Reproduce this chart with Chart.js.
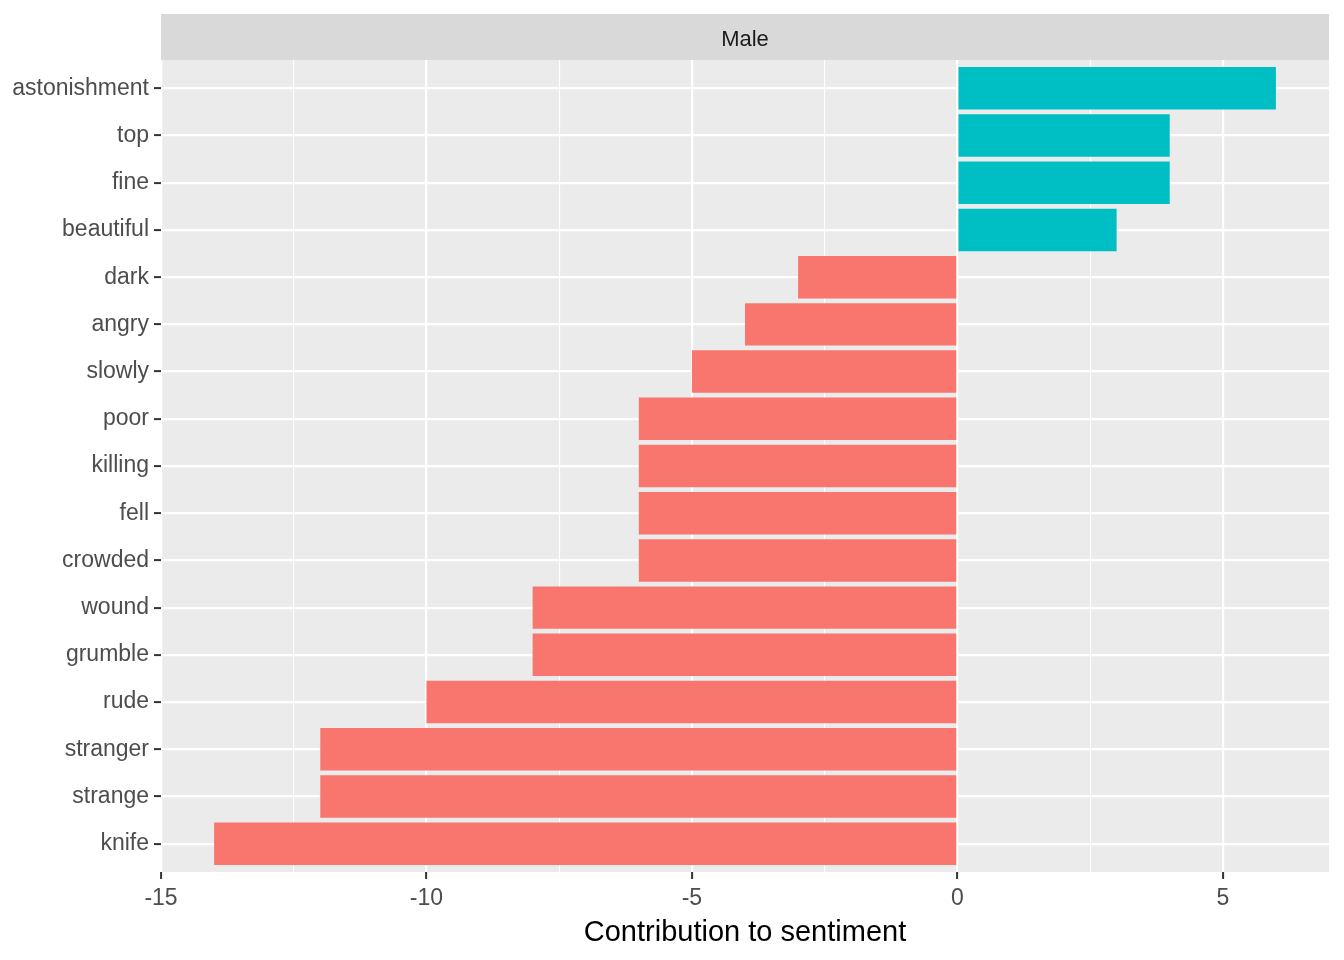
<!DOCTYPE html>
<html>
<head>
<meta charset="utf-8">
<script src="https://cdn.jsdelivr.net/npm/chart.js@4"></script>
<style>
  body { margin: 0; background: #fff; }
</style>
</head>
<body>
<canvas id="myChart" width="1344" height="960"></canvas>
<script>
// words top to bottom, and their contribution to sentiment
const words = ['astonishment', 'top', 'fine', 'beautiful', 'dark', 'angry', 'slowly', 'poor',
  'killing', 'fell', 'crowded', 'wound', 'grumble', 'rude', 'stranger', 'strange', 'knife'];
const contribution = [6, 4, 4, 3, -3, -4, -5, -6, -6, -6, -6, -8, -8, -10, -12, -12, -14];
const xTicks = [-15, -12.5, -10, -7.5, -5, -2.5, 0, 2.5, 5];
const panelTitle = 'Male';

const font = "'Liberation Sans', Arial, sans-serif";

// grey strip with the facet label above the panel
const stripPlugin = {
  id: 'strip',
  beforeDraw(chart) {
    const ctx = chart.ctx;
    const a = chart.chartArea;
    ctx.save();
    ctx.fillStyle = '#D9D9D9';
    ctx.fillRect(a.left, 14, a.right - a.left, a.top - 14);
    ctx.fillStyle = '#1A1A1A';
    ctx.font = '22px ' + font;
    ctx.textAlign = 'center';
    ctx.textBaseline = 'middle';
    ctx.fillText(panelTitle, (a.left + a.right) / 2, (14 + a.top) / 2 + 3);
    ctx.restore();
  }
};

// grey panel background
const panelBg = {
  id: 'panelBg',
  beforeDraw(chart) {
    const ctx = chart.ctx;
    const a = chart.chartArea;
    ctx.save();
    ctx.fillStyle = '#EBEBEB';
    ctx.fillRect(a.left, a.top, a.right - a.left, a.bottom - a.top);
    ctx.restore();
  }
};

new Chart(document.getElementById('myChart'), {
  type: 'bar',
  data: {
    datasets: [{
      data: contribution.map((v, i) => ({ x: v, y: i })),
      backgroundColor: contribution.map(v => v > 0 ? '#00BFC4' : '#F8766D'),
      borderWidth: 0,
      barPercentage: 0.9,
      categoryPercentage: 1.0
    }]
  },
  options: {
    indexAxis: 'y',
    responsive: false,
    animation: false,
    layout: { padding: { top: 60, right: 15, left: 0, bottom: 0 } },
    plugins: { legend: { display: false }, tooltip: { enabled: false } },
    scales: {
      x: {
        type: 'linear',
        min: -15,
        max: 7,
        afterBuildTicks(scale) { scale.ticks = xTicks.map(v => ({ value: v })); },
        afterFit(scale) { scale.height = 88; },
        border: { display: false },
        grid: {
          color: '#FFFFFF',
          lineWidth: c => (c.tick && c.tick.value % 5 === 0) ? 2.2 : 1.1,
          drawTicks: true,
          tickLength: 7,
          tickWidth: 2,
          tickColor: c => (c.tick && c.tick.value % 5 === 0) ? '#333333' : 'rgba(0,0,0,0)'
        },
        ticks: {
          autoSkip: false,
          maxRotation: 0,
          color: '#4D4D4D',
          font: { family: font, size: 23 },
          padding: 6,
          callback: v => v % 5 === 0 ? String(v) : ''
        },
        title: {
          display: true,
          text: 'Contribution to sentiment',
          color: '#000000',
          font: { family: font, size: 29 },
          padding: { top: 0, bottom: 10 }
        }
      },
      y: {
        type: 'linear',
        reverse: true,
        offset: false,
        min: -0.6,
        max: words.length - 0.4,
        afterBuildTicks(scale) { scale.ticks = words.map((w, i) => ({ value: i })); },
        afterFit(scale) { scale.width = 161; },
        border: { display: false },
        grid: {
          offset: false,
          color: '#FFFFFF',
          lineWidth: 2.2,
          drawTicks: true,
          tickLength: 7,
          tickWidth: 2,
          tickColor: '#333333'
        },
        ticks: {
          autoSkip: false,
          color: '#4D4D4D',
          font: { family: font, size: 23 },
          padding: 5,
          callback: v => words[v]
        }
      }
    }
  },
  plugins: [panelBg, stripPlugin]
});
</script>
</body>
</html>
